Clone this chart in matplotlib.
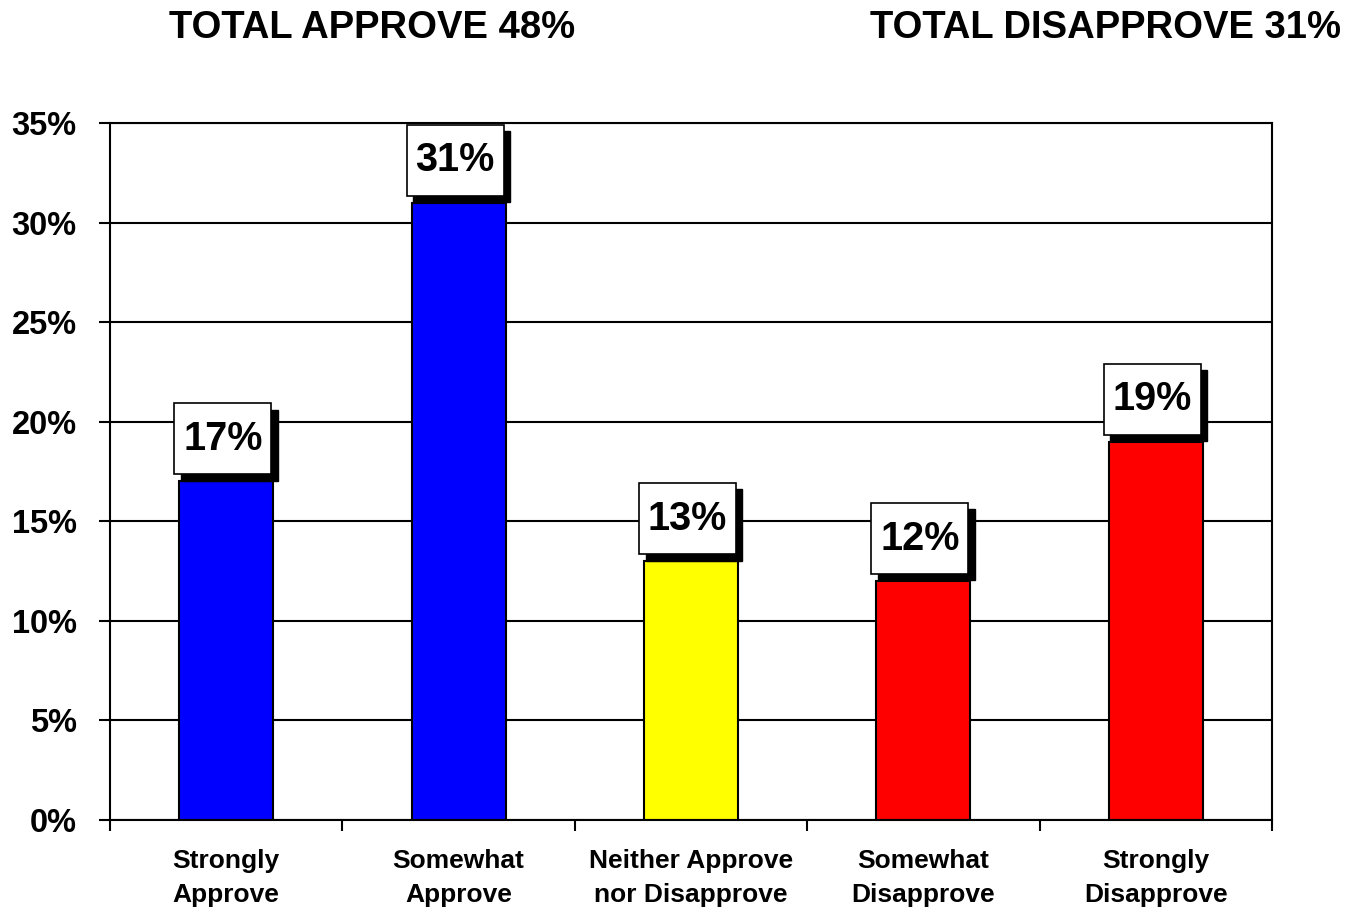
import matplotlib.pyplot as plt
from matplotlib.patches import Rectangle
import numpy as np

plt.rcParams['font.family'] = ['Liberation Sans', 'DejaVu Sans']
plt.rcParams['font.weight'] = 'bold'

# data
categories = ['Strongly\nApprove', 'Somewhat\nApprove', 'Neither Approve\nnor Disapprove',
              'Somewhat\nDisapprove', 'Strongly\nDisapprove']
values = [17, 31, 13, 12, 19]
colors = ['#0000FF', '#0000FF', '#FFFF00', '#FF0000', '#FF0000']
yticks = [0, 5, 10, 15, 20, 25, 30, 35]
title_left = 'TOTAL APPROVE 48%'
title_right = 'TOTAL DISAPPROVE 31%'

fig = plt.figure(figsize=(13.45, 9.07), dpi=100)
ax = fig.add_axes([0.0818, 0.0959, 0.8639, 0.7685])

x = np.arange(len(values))
ax.bar(x, values, width=0.405, color=colors, edgecolor='black', linewidth=1.5, zorder=2)

ax.set_xlim(-0.5, len(values) - 0.5)
ax.set_ylim(0, 35)
ax.set_yticks(yticks)
ax.set_yticklabels(['%d%%' % t for t in yticks], fontsize=23.5, fontweight='bold')
ax.yaxis.grid(True, color='black', linewidth=1.5)
ax.set_axisbelow(True)

# category boundaries as major ticks, labels on minor ticks
ax.set_xticks(np.arange(len(values) + 1) - 0.5)
ax.set_xticklabels([])
ax.set_xticks(x, minor=True)
ax.set_xticklabels(categories, minor=True, fontsize=19, fontweight='bold', linespacing=1.5)
ax.tick_params(axis='x', which='minor', length=0, pad=21)
ax.tick_params(axis='both', which='major', length=8, width=1.5, direction='out')
ax.tick_params(axis='y', pad=16)
for s in ax.spines.values():
    s.set_linewidth(1.5)

# value boxes with drop shadow
bw, bh, gap = 0.417, 3.57, 0.35
sx, sy = 0.028, 0.32
for xi, v in zip(x, values):
    left = xi - bw / 2 - 0.015
    ax.add_patch(Rectangle((left + sx, v + gap - sy), bw, bh, facecolor='black',
                           edgecolor='black', zorder=3, clip_on=False))
    ax.add_patch(Rectangle((left, v + gap), bw, bh, facecolor='white',
                           edgecolor='black', linewidth=1.2, zorder=4, clip_on=False))
    ax.text(left + bw / 2, v + gap + bh / 2, '%d%%' % v, ha='center', va='center',
            fontsize=28.5, fontweight='bold', zorder=5)

fig.text(372 / 1345, 1 - 28 / 907, title_left, ha='center', va='center',
         fontsize=27.5, fontweight='bold')
fig.text(1106 / 1345, 1 - 28 / 907, title_right, ha='center', va='center',
         fontsize=27.5, fontweight='bold')

plt.savefig('out.png', dpi=100)
